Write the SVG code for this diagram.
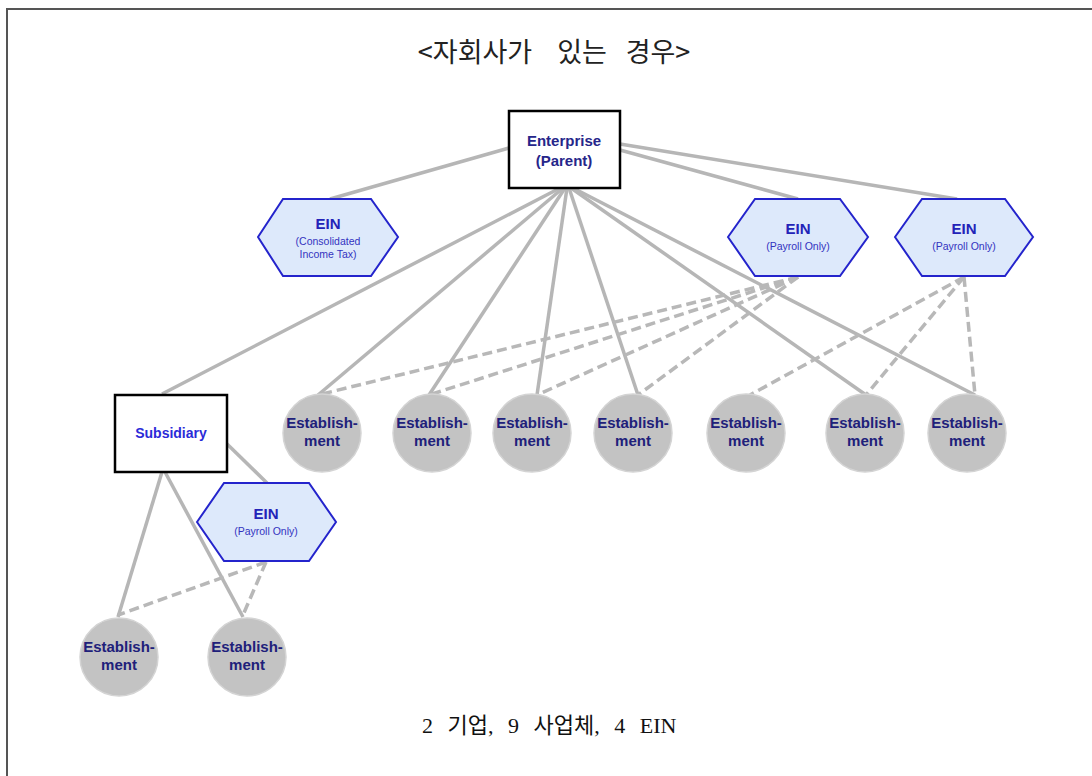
<svg xmlns="http://www.w3.org/2000/svg" width="1092" height="776" viewBox="0 0 1092 776">
  <style>
    .frame { stroke: #555; stroke-width: 2; fill: none; }
    .title { font-family: "Noto Sans CJK KR", sans-serif; font-size: 27px; fill: #222; text-anchor: middle; }
    .caption { font-family: "Liberation Serif", "Noto Sans CJK KR", serif; font-size: 22px; fill: #111; word-spacing: 9px; }
    .box { fill: #fff; stroke: #000; stroke-width: 2.5; }
    .hex { fill: #dde9fb; stroke: #2424cc; stroke-width: 2; }
    .est { fill: #c3c3c3; stroke: #d4d4d4; stroke-width: 1.5; }
    .solid { stroke: #b6b6b6; stroke-width: 3.5; fill: none; }
    .dash { stroke: #b8b8b8; stroke-width: 3.5; fill: none; stroke-dasharray: 10 5; }
    .ent { font-family: "Liberation Sans", Arial, sans-serif; font-weight: bold; font-size: 15px; fill: #26268a; text-anchor: middle; }
    .sub { font-family: "Liberation Sans", Arial, sans-serif; font-weight: bold; font-size: 14px; fill: #2b2bd8; text-anchor: middle; }
    .ein { font-family: "Liberation Sans", Arial, sans-serif; font-weight: bold; font-size: 15px; fill: #2323b8; text-anchor: middle; }
    .einsub { font-family: "Liberation Sans", Arial, sans-serif; font-size: 10.5px; fill: #3333c0; text-anchor: middle; }
    .estt { font-family: "Liberation Sans", Arial, sans-serif; font-weight: bold; font-size: 15px; fill: #20207a; text-anchor: middle; }
  </style>

  <rect width="1092" height="776" fill="#fff"/>
  <!-- page frame: top and left rules -->
  <path class="frame" d="M7 776 V9 H1092"/>

  <text class="title" y="62"><tspan x="475">&lt;자회사가</tspan><tspan x="582">있는</tspan><tspan x="658">경우&gt;</tspan></text>

  <g id="connectors">
    <!-- enterprise to EINs -->
    <line class="solid" x1="509" y1="148" x2="330" y2="199"/>
    <line class="solid" x1="620" y1="150" x2="798" y2="199"/>
    <line class="solid" x1="620" y1="144" x2="957" y2="199"/>
    <!-- enterprise to subsidiary and establishments -->
    <line class="solid" x1="560" y1="188" x2="162" y2="394"/>
    <line class="solid" x1="563" y1="188" x2="318" y2="395"/>
    <line class="solid" x1="565" y1="188" x2="429" y2="395"/>
    <line class="solid" x1="567" y1="188" x2="537" y2="395"/>
    <line class="solid" x1="569" y1="188" x2="638" y2="395"/>
    <line class="solid" x1="571" y1="188" x2="866" y2="395"/>
    <line class="solid" x1="573" y1="188" x2="975" y2="395"/>
    <!-- payroll EIN 1 to establishments -->
    <line class="dash" x1="798" y1="277" x2="318" y2="395"/>
    <line class="dash" x1="798" y1="277" x2="429" y2="395"/>
    <line class="dash" x1="798" y1="277" x2="537" y2="395"/>
    <line class="dash" x1="798" y1="277" x2="638" y2="395"/>
    <!-- payroll EIN 2 to establishments -->
    <line class="dash" x1="964" y1="277" x2="750" y2="395"/>
    <line class="dash" x1="964" y1="277" x2="866" y2="395"/>
    <line class="dash" x1="964" y1="277" x2="975" y2="395"/>
    <!-- subsidiary branch -->
    <line class="solid" x1="225" y1="442" x2="267" y2="483"/>
    <line class="solid" x1="162" y1="472" x2="118" y2="617"/>
    <line class="solid" x1="165" y1="472" x2="243" y2="617"/>
    <line class="dash" x1="266" y1="562" x2="118" y2="615"/>
    <line class="dash" x1="266" y1="562" x2="243" y2="615"/>
  </g>

  <g id="enterprise">
    <rect class="box" x="509" y="111" width="111" height="77"/>
    <text class="ent" x="564" y="146">Enterprise</text>
    <text class="ent" x="564" y="166">(Parent)</text>
  </g>

  <g id="ein-consolidated">
    <polygon class="hex" points="258,237 283,199 371,199 398,237 371,276 283,276"/>
    <text class="ein" x="328" y="229">EIN</text>
    <text class="einsub" x="328" y="245">(Consolidated</text>
    <text class="einsub" x="328" y="258">Income Tax)</text>
  </g>

  <g id="ein-payroll-1">
    <polygon class="hex" points="728,237 755,199 840,199 868,237 840,276 755,276"/>
    <text class="ein" x="798" y="234">EIN</text>
    <text class="einsub" x="798" y="250">(Payroll Only)</text>
  </g>

  <g id="ein-payroll-2">
    <polygon class="hex" points="895,237 922,199 1005,199 1033,237 1005,276 922,276"/>
    <text class="ein" x="964" y="234">EIN</text>
    <text class="einsub" x="964" y="250">(Payroll Only)</text>
  </g>

  <g id="subsidiary">
    <rect class="box" x="115" y="395" width="112" height="77"/>
    <text class="sub" x="171" y="438">Subsidiary</text>
  </g>

  <g id="ein-payroll-sub">
    <polygon class="hex" points="197,522 224,483 309,483 336,522 309,561 224,561"/>
    <text class="ein" x="266" y="519">EIN</text>
    <text class="einsub" x="266" y="535">(Payroll Only)</text>
  </g>

  <g id="est-1"><circle class="est" cx="322" cy="433" r="39"/><text class="estt" x="322" y="428">Establish-</text><text class="estt" x="322" y="446">ment</text></g>
  <g id="est-2"><circle class="est" cx="432" cy="433" r="39"/><text class="estt" x="432" y="428">Establish-</text><text class="estt" x="432" y="446">ment</text></g>
  <g id="est-3"><circle class="est" cx="532" cy="433" r="39"/><text class="estt" x="532" y="428">Establish-</text><text class="estt" x="532" y="446">ment</text></g>
  <g id="est-4"><circle class="est" cx="633" cy="433" r="39"/><text class="estt" x="633" y="428">Establish-</text><text class="estt" x="633" y="446">ment</text></g>
  <g id="est-5"><circle class="est" cx="746" cy="433" r="39"/><text class="estt" x="746" y="428">Establish-</text><text class="estt" x="746" y="446">ment</text></g>
  <g id="est-6"><circle class="est" cx="865" cy="433" r="39"/><text class="estt" x="865" y="428">Establish-</text><text class="estt" x="865" y="446">ment</text></g>
  <g id="est-7"><circle class="est" cx="967" cy="433" r="39"/><text class="estt" x="967" y="428">Establish-</text><text class="estt" x="967" y="446">ment</text></g>
  <g id="est-8"><circle class="est" cx="119" cy="657" r="39"/><text class="estt" x="119" y="652">Establish-</text><text class="estt" x="119" y="670">ment</text></g>
  <g id="est-9"><circle class="est" cx="247" cy="657" r="39"/><text class="estt" x="247" y="652">Establish-</text><text class="estt" x="247" y="670">ment</text></g>

  <text class="caption" x="422" y="733">2 기업, 9 사업체, 4 EIN</text>
</svg>
